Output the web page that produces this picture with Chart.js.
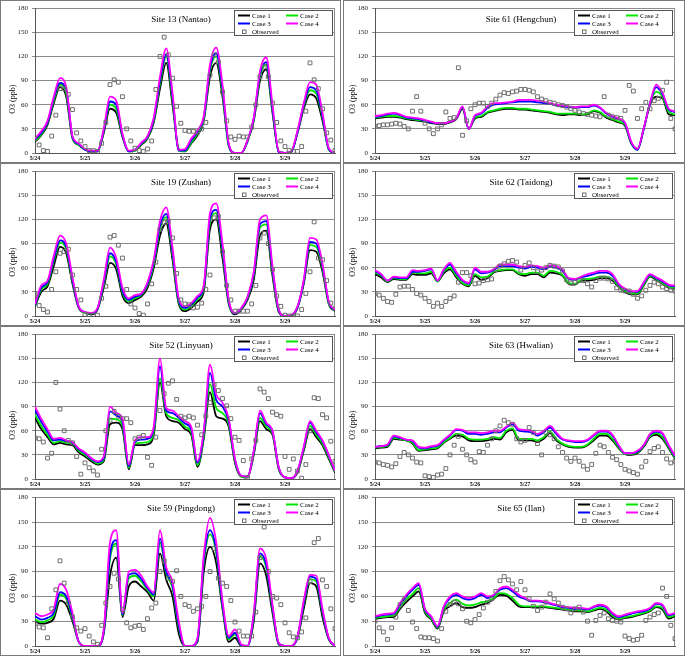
<!DOCTYPE html>
<html><head><meta charset="utf-8">
<script src="https://cdn.jsdelivr.net/npm/chart.js@4.4.1/dist/chart.umd.min.js"></script>
<style>
html,body{margin:0;padding:0;background:#fff;}
#wrap{position:relative;width:685px;height:656px;overflow:hidden;background:#fff;}
.panel{position:absolute;}
.panel canvas{position:absolute;left:0;top:0;}
.frame{position:absolute;left:0;top:0;right:0;bottom:0;border:1px solid #7a7a7a;box-sizing:border-box;pointer-events:none;}
</style></head><body><div id="wrap"></div>
<script>
// ---------- data ----------
const lineHours = [0,3,6,9,12,15,18,21,24,27,30,33,36,39,42,45,48,51,54,57,60,63,66,69,72,75,78,81,84,87,90,93,96,99,102,105,108,111,114,117,120,123,126,129,132,135,138,141,144];
const obsHours = [0,2,4,6,8,10,12,14,16,18,20,22,24,26,28,30,32,34,36,38,40,42,44,46,48,50,52,54,56,58,60,62,64,66,68,70,72,74,76,78,80,82,84,86,88,90,92,94,96,98,100,102,104,106,108,110,112,114,116,118,120,122,124,126,128,130,132,134,136,138,140,142,144];
const dateLabels = ['5/24','5/25','5/26','5/27','5/28','5/29'];
const dateTickHours = [0,24,48,72,96,120];
const caseNames = ['Case 1','Case 2','Case 3','Case 4'];
const obsName = 'Observed';
const yAxisTitle = 'O3 (ppb)';

// Site 13 (Nantao)
const s13Case1 = [14,22,35,62,82,70,18,10,4,2,2,25,55,50,20,2,3,10,18,38,80,112,60,5,2,12,22,40,95,112,70,10,0,0,15,40,90,104,50,2,0,2,25,55,73,68,40,5,0];
const s13Case2 = [15,23,37,65,85,74,19,10,4,2,2,27,60,55,21,2,3,11,19,40,86,120,65,3,2,13,24,42,102,120,75,8,0,0,14,42,95,110,52,1,0,1,26,58,78,74,44,4,0];
const s13Case3 = [17,25,38,68,87,78,20,11,4,2,2,28,64,60,22,2,4,12,20,42,90,123,70,3,3,16,26,44,106,124,80,10,0,0,15,43,98,113,55,1,0,1,26,60,82,78,46,5,0];
const s13Case4 = [18,27,40,70,93,82,21,12,5,3,3,30,70,65,24,3,4,13,21,44,95,130,75,4,5,18,28,46,110,131,85,12,0,0,16,44,102,119,60,2,0,2,28,62,88,85,50,6,0];
const s13Obs = [18,10,3,2,21,47,80,80,73,54,25,15,8,3,3,2,12,38,85,91,88,70,30,15,6,3,2,5,15,79,120,144,122,93,58,37,28,27,27,26,30,38,97,122,113,76,40,20,17,21,20,20,32,60,95,107,95,62,38,15,8,3,2,2,8,52,112,91,80,55,25,16,3];

// Site 61 (Hengchun)
const s61Case1 = [43,44,45,45,44,42,41,40,39,37,36,36,38,42,55,30,43,45,50,52,54,55,55,54,54,53,52,51,50,48,47,48,48,47,48,52,50,44,41,38,34,12,5,30,60,70,68,48,47];
const s61Case2 = [44,45,46,46,45,43,42,41,40,38,37,37,39,43,56,30,44,46,51,53,55,56,56,55,55,54,53,52,51,49,49,49,49,48,49,53,51,45,42,39,35,12,4,30,62,76,70,51,48];
const s61Case3 = [45,46,48,49,47,44,43,42,40,38,37,37,39,43,57,30,46,49,56,60,61,62,63,64,64,64,63,62,61,59,58,57,56,57,57,59,56,49,45,42,37,13,4,30,62,82,73,54,51];
const s61Case4 = [46,47,49,50,48,45,44,43,41,39,37,37,39,43,58,30,47,50,58,62,62,63,64,66,66,66,65,64,62,60,59,58,57,58,58,60,57,50,46,43,38,14,5,31,62,85,75,55,52];
const s61Obs = [33,34,35,35,36,37,36,33,30,52,70,52,37,30,24,30,35,51,43,44,106,22,40,55,60,62,62,58,62,67,72,75,74,76,77,79,79,78,76,70,67,65,63,62,60,59,57,55,53,51,49,48,47,46,45,70,47,45,44,43,53,84,77,43,55,63,55,65,68,78,88,43,30];

// Site 19 (Zushan)
const s19Case1 = [12,30,37,62,86,78,40,10,4,2,8,35,66,58,25,16,20,24,35,60,100,115,70,15,6,10,18,30,108,120,72,15,2,8,20,45,100,106,50,5,0,0,10,40,82,80,55,15,6];
const s19Case2 = [13,33,40,68,91,83,43,11,4,3,9,39,74,64,29,18,22,26,38,64,108,123,76,17,8,12,21,34,116,128,80,17,3,9,22,50,110,114,55,6,0,0,11,42,88,86,59,16,7];
const s19Case3 = [14,35,42,71,94,86,45,11,5,3,9,42,78,67,31,20,24,27,40,67,112,127,80,19,10,14,23,36,121,132,84,18,3,9,23,52,114,118,58,7,0,1,11,43,92,90,62,17,7];
const s19Case4 = [15,38,44,75,100,90,48,12,5,4,10,45,85,72,35,22,26,28,42,70,118,135,85,22,12,16,25,38,128,140,90,20,4,10,24,55,120,125,62,8,0,1,12,45,97,95,65,18,8];
const s19Obs = [27,13,8,5,33,55,78,80,83,51,33,20,2,1,1,1,22,37,98,100,88,72,33,15,10,3,1,15,40,67,108,116,118,97,53,20,15,14,10,11,16,33,51,122,124,80,38,20,6,6,6,6,15,38,97,103,90,58,25,12,1,0,0,0,8,28,55,117,72,70,44,16,9];

// Site 62 (Taidong)
const s62Case1 = [52,48,42,46,45,45,52,51,51,53,43,53,58,48,40,37,50,45,47,54,56,57,57,52,50,52,52,48,54,53,50,40,39,44,44,45,47,47,44,36,30,27,27,38,49,45,40,35,34];
const s62Case2 = [54,50,43,47,46,46,54,53,53,55,43,55,60,50,41,38,52,48,49,55,57,58,58,53,52,54,54,50,56,55,51,41,40,45,46,47,49,49,46,37,31,28,28,39,50,46,41,36,35];
const s62Case3 = [56,51,44,48,47,47,55,55,56,58,44,57,64,53,44,40,58,53,54,57,62,62,62,60,59,61,60,58,61,60,56,46,45,48,50,52,54,54,50,39,33,30,30,41,51,47,43,38,37];
const s62Case4 = [57,52,44,49,48,48,57,56,57,59,44,58,66,55,45,41,60,55,55,58,64,64,64,62,61,63,62,60,63,62,58,47,46,49,52,54,56,56,52,40,34,31,31,42,52,48,44,39,38];
const s62Obs = [28,26,22,18,17,27,36,37,37,33,28,26,22,18,12,16,12,18,22,25,42,54,54,50,40,41,44,45,46,58,62,65,68,69,67,57,63,66,60,55,57,60,63,62,61,56,45,41,42,44,44,40,36,44,47,47,46,43,35,32,31,31,27,22,25,32,38,42,40,36,34,32,31];

// Site 52 (Linyuan)
const s52Case1 = [76,62,52,43,45,43,42,33,28,22,18,22,68,70,62,12,42,42,43,55,120,78,72,70,62,55,15,50,108,78,75,65,20,3,2,30,72,62,55,12,2,1,8,35,62,52,42,25,8];
const s52Case2 = [80,66,55,45,47,45,44,35,30,24,19,24,75,74,66,14,44,45,46,58,125,82,76,73,65,58,17,53,118,88,82,68,22,3,2,32,76,65,57,13,2,1,9,37,66,55,44,27,9];
const s52Case3 = [86,71,59,48,49,47,45,37,32,25,21,26,84,79,71,16,46,49,50,62,140,85,82,76,69,62,20,57,132,98,90,72,24,4,3,34,82,68,59,14,2,1,10,39,70,58,47,29,10];
const s52Case4 = [90,75,62,50,51,48,46,38,33,26,22,28,90,82,75,18,48,52,52,65,150,88,85,78,72,65,22,60,142,105,95,75,25,4,3,35,85,70,60,15,2,1,10,40,72,60,48,30,10];
const s52Obs = [51,50,46,26,32,120,87,60,48,45,28,6,20,14,10,5,37,60,73,84,78,75,75,70,50,52,54,27,17,52,85,106,119,122,99,78,76,78,76,67,55,78,95,117,110,100,91,75,52,48,23,2,25,48,112,108,100,83,80,78,28,12,25,10,1,18,60,101,100,80,76,47,22];

// Site 63 (Hwalian)
const s63Case1 = [38,39,40,50,49,48,44,35,36,37,38,45,50,54,53,48,47,47,48,50,49,58,61,48,48,48,46,50,57,48,43,40,39,39,42,48,54,54,48,38,31,30,32,40,52,55,50,38,25];
const s63Case2 = [39,40,41,51,50,48,45,36,37,38,39,46,51,56,55,50,49,49,50,52,51,60,63,50,50,50,48,52,59,50,44,41,40,40,43,50,56,56,50,39,31,31,33,41,53,57,52,39,26];
const s63Case3 = [40,41,42,53,51,49,47,39,38,40,41,48,54,61,60,56,56,55,56,58,58,64,68,60,59,58,54,58,64,56,49,47,46,46,48,54,59,59,54,41,32,32,34,42,55,59,56,41,28];
const s63Case4 = [40,41,43,54,52,49,48,40,39,41,42,49,55,62,61,58,58,57,58,60,60,65,70,62,61,60,56,60,66,58,50,48,47,47,49,55,60,60,55,42,32,32,35,42,56,60,57,42,29];
const s63Obs = [21,20,18,17,15,19,28,33,30,26,21,20,4,3,2,5,6,13,30,42,53,37,30,24,21,34,33,42,50,60,66,73,70,68,50,46,48,64,58,44,30,58,55,50,40,33,26,22,26,22,16,12,18,32,42,40,33,27,24,18,12,10,8,6,15,22,34,38,40,33,25,20,22];

// Site 59 (Pingdong)
const s59Case1 = [30,27,28,33,55,50,30,5,0,0,0,15,85,107,35,72,78,72,65,55,112,80,60,15,0,0,5,90,120,100,45,5,10,0,0,30,100,85,40,2,0,0,10,45,76,72,35,8,0];
const s59Case2 = [32,29,31,37,62,57,34,5,0,0,0,17,105,124,37,82,85,78,68,60,125,88,70,22,0,0,7,100,135,112,48,8,14,1,0,35,108,95,45,3,0,0,11,50,81,78,40,9,0];
const s59Case3 = [36,32,34,40,65,60,36,5,0,0,0,18,110,128,38,86,88,81,70,62,130,90,73,25,0,0,8,104,140,116,50,10,16,1,0,37,112,98,47,3,0,0,11,52,84,81,42,9,0];
const s59Case4 = [40,36,38,45,75,68,40,5,0,0,0,20,125,140,40,90,92,85,72,65,140,95,78,30,0,0,10,110,155,125,55,12,20,2,0,40,118,105,50,4,0,0,12,55,86,85,45,10,0];
const s59Obs = [27,23,22,10,45,68,103,76,52,35,22,18,21,12,5,2,25,52,72,88,81,44,28,22,24,25,20,33,46,52,90,103,82,78,91,60,50,48,42,45,48,60,90,118,82,76,72,55,29,18,12,12,12,41,107,144,90,60,58,50,28,16,11,10,17,34,78,125,130,80,72,45,21];

// Site 65 (Ilan)
const s65Case1 = [33,34,35,35,45,53,60,66,40,32,21,42,48,52,47,46,47,50,52,57,62,61,55,48,47,47,47,47,46,45,44,43,42,42,41,43,45,42,35,32,34,35,37,39,42,47,44,33,36];
const s65Case2 = [34,35,36,37,47,56,63,70,42,33,22,44,52,56,51,49,50,53,54,58,64,63,58,50,48,48,48,48,47,46,45,44,43,43,42,44,46,44,37,33,35,36,38,40,43,48,46,35,37];
const s65Case3 = [35,37,38,39,50,60,68,74,44,35,23,47,58,62,58,56,58,62,58,61,68,70,66,60,57,54,54,53,51,49,47,46,45,45,44,47,49,47,39,35,37,39,41,42,45,51,49,37,39];
const s65Case4 = [36,38,39,40,52,62,70,76,45,36,24,48,60,64,60,58,60,64,60,62,70,72,68,62,58,55,55,54,52,50,48,47,46,46,45,48,50,48,40,36,38,40,42,43,46,52,50,38,40];
const s65Obs = [30,22,17,8,22,35,50,56,43,29,21,11,10,10,9,6,21,42,50,53,51,45,30,28,32,38,46,53,57,66,79,84,80,75,68,78,68,57,48,43,47,53,63,57,52,47,45,40,45,47,41,30,13,31,37,40,33,31,30,29,12,9,7,8,13,31,35,38,40,70,60,25,9];

const siteTitles = ['Site 13 (Nantao)','Site 61 (Hengchun)','Site 19 (Zushan)','Site 62 (Taidong)','Site 52 (Linyuan)','Site 63 (Hwalian)','Site 59 (Pingdong)','Site 65 (Ilan)'];
const siteCases = [
  [s13Case1,s13Case2,s13Case3,s13Case4],
  [s61Case1,s61Case2,s61Case3,s61Case4],
  [s19Case1,s19Case2,s19Case3,s19Case4],
  [s62Case1,s62Case2,s62Case3,s62Case4],
  [s52Case1,s52Case2,s52Case3,s52Case4],
  [s63Case1,s63Case2,s63Case3,s63Case4],
  [s59Case1,s59Case2,s59Case3,s59Case4],
  [s65Case1,s65Case2,s65Case3,s65Case4]
];
const siteObs = [s13Obs,s61Obs,s19Obs,s62Obs,s52Obs,s63Obs,s59Obs,s65Obs];

// ---------- styling ----------
const caseColors = ['#000000','#00e600','#0000ff','#ff00ff'];
const obsColor = '#6e6e6e';
const serif = '"Liberation Serif", "Times New Roman", serif';
const rowTops = [0,163,326,489];
const rowHeights = [163,163,163,167];

const panelPlugin = {
  id: 'panelDecor',
  beforeDatasetsDraw(chart) {
    const {ctx, chartArea: a} = chart;
    ctx.save();
    ctx.strokeStyle = '#8a8a8a';
    ctx.lineWidth = 1;
    ctx.beginPath();
    ctx.moveTo(Math.round(a.right) - 0.5, a.top);
    ctx.lineTo(Math.round(a.right) - 0.5, a.bottom);
    ctx.stroke();
    ctx.restore();
  },
  afterDatasetsDraw(chart, args, opts) {
    const {ctx, chartArea: a} = chart;
    ctx.save();
    ctx.fillStyle = '#000';
    ctx.font = '9px ' + serif;
    ctx.textAlign = 'center';
    ctx.textBaseline = 'middle';
    ctx.fillText(opts.title, (a.left + a.right) / 2 - 4, a.top + 11.5);
    ctx.save();
    ctx.translate(a.left - 22, a.top + 91);
    ctx.rotate(-Math.PI / 2);
    ctx.font = '8px ' + serif;
    ctx.fillText(yAxisTitle, 0, 0);
    ctx.restore();
    const bw = 99, bh = 26;
    const bx = Math.round(a.right - 2 - bw), by = Math.round(a.top + 2);
    ctx.fillStyle = '#fff';
    ctx.fillRect(bx, by, bw, bh);
    ctx.strokeStyle = '#555';
    ctx.lineWidth = 1;
    ctx.strokeRect(bx + 0.5, by + 0.5, bw - 1, bh - 1);
    ctx.font = '7px ' + serif;
    ctx.textAlign = 'left';
    ctx.textBaseline = 'middle';
    const rows = [by + 5.5, by + 13.5, by + 21.5];
    const cols = [bx + 4, bx + 52];
    caseNames.forEach((name, i) => {
      const cx = cols[i % 2], cy = rows[Math.floor(i / 2)];
      ctx.strokeStyle = caseColors[i];
      ctx.lineWidth = 2;
      ctx.beginPath();
      ctx.moveTo(cx, cy); ctx.lineTo(cx + 12, cy);
      ctx.stroke();
      ctx.fillStyle = '#000';
      ctx.fillText(name, cx + 14, cy + 0.5);
    });
    ctx.strokeStyle = obsColor;
    ctx.lineWidth = 1;
    ctx.strokeRect(bx + 8.5, rows[2] - 1.5, 3.5, 3.5);
    ctx.fillStyle = '#000';
    ctx.fillText(obsName, bx + 18, rows[2] + 0.5);
    ctx.restore();
  }
};

const wrap = document.getElementById('wrap');
siteTitles.forEach((title, idx) => {
  const col = idx % 2, row = Math.floor(idx / 2);
  const L = col ? 343 : 0, W = col ? 342 : 341;
  const T = rowTops[row], H = rowHeights[row];
  const plotLeft = col ? 32 : 35, plotRight = col ? 332 : 335;
  const plotTop = 6.5, plotBottom = H - 10;

  const div = document.createElement('div');
  div.className = 'panel';
  div.style.left = L + 'px'; div.style.top = T + 'px';
  div.style.width = W + 'px'; div.style.height = H + 'px';
  const cv = document.createElement('canvas');
  cv.width = W; cv.height = H;
  cv.style.width = W + 'px'; cv.style.height = H + 'px';
  div.appendChild(cv);
  const fr = document.createElement('div');
  fr.className = 'frame';
  div.appendChild(fr);
  wrap.appendChild(div);

  const datasets = [];
  datasets.push({
    label: obsName,
    data: obsHours.map((h, i) => ({x: h, y: siteObs[idx][i]})),
    showLine: false,
    pointStyle: 'rect',
    pointRadius: 2.7,
    pointBorderColor: obsColor,
    pointBackgroundColor: 'rgba(0,0,0,0)',
    pointBorderWidth: 1,
    borderColor: obsColor,
    order: 0
  });
  siteCases[idx].forEach((arr, c) => {
    datasets.push({
      label: caseNames[c],
      data: lineHours.map((h, i) => ({x: h, y: arr[i]})),
      borderColor: caseColors[c],
      borderWidth: 1.8,
      pointRadius: 0,
      cubicInterpolationMode: 'monotone',
      fill: false,
      order: 4 - c
    });
  });

  new Chart(cv, {
    type: 'line',
    data: {datasets},
    options: {
      responsive: false,
      devicePixelRatio: 1,
      animation: false,
      events: [],
      layout: {padding: {left: 0, top: plotTop, right: W - plotRight, bottom: 0}},
      plugins: {
        legend: {display: false},
        tooltip: {enabled: false},
        title: {display: false},
        panelDecor: {title}
      },
      scales: {
        x: {
          type: 'linear', min: 0, max: 144,
          afterBuildTicks: s => { s.ticks = dateTickHours.map(v => ({value: v})); },
          afterFit: s => { s.height = H - plotBottom; },
          grid: {display: false, drawTicks: false},
          border: {display: true, color: '#555', width: 1},
          ticks: {
            autoSkip: false, maxRotation: 0, padding: 2,
            color: '#111',
            font: {family: serif, size: 6, weight: 'bold'},
            callback: (v, i) => dateLabels[i]
          }
        },
        y: {
          min: 0, max: 180,
          afterFit: s => { s.width = plotLeft; },
          ticks: {stepSize: 30, padding: 4, color: '#222', font: {family: serif, size: 7}},
          grid: {color: '#8a8a8a', lineWidth: 1, tickLength: 3},
          border: {display: true, color: '#555', width: 1}
        }
      }
    },
    plugins: [panelPlugin]
  });
});
</script>
</body></html>
